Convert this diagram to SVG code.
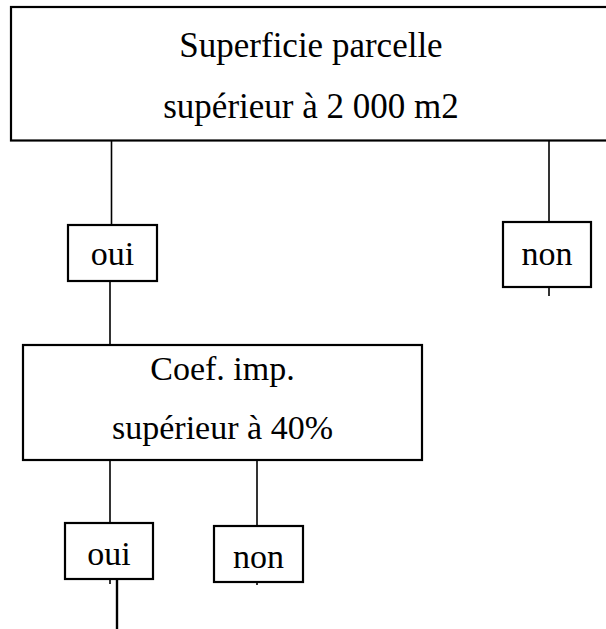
<svg xmlns="http://www.w3.org/2000/svg" width="606" height="629" viewBox="0 0 606 629">
<style>
.box{fill:#fff;stroke:#000;stroke-width:2.2}
.t{font-family:"Liberation Serif","Times New Roman",serif;font-size:34px;fill:#000;text-anchor:middle}
.c{stroke:#000;stroke-width:1.6;fill:none}
</style>
<rect width="606" height="629" fill="#fff"/>
<g id="connectors">
<line class="c" x1="111.5" y1="141" x2="111.5" y2="225"/>
<line class="c" x1="549" y1="141" x2="549" y2="222"/>
<line class="c" x1="549" y1="287" x2="549" y2="296"/>
<line class="c" x1="110" y1="281" x2="110" y2="345"/>
<line class="c" x1="110" y1="460" x2="110" y2="523"/>
<line class="c" x1="257" y1="460" x2="257" y2="526"/>
<line class="c" x1="110" y1="579" x2="110" y2="584"/>
<line class="c" x1="257" y1="582" x2="257" y2="585"/>
<line x1="117" y1="574" x2="117" y2="629" stroke="#000" stroke-width="2.4"/>
</g>
<g id="n_superficie">
<rect class="box" x="11" y="7" width="600" height="133.5"/>
<text class="t" x="311" y="57" style="font-size:35px">Superficie parcelle</text>
<text class="t" x="311" y="118" style="font-size:35px">supérieur à 2 000 m2</text>
</g>
<g id="n_oui1">
<rect class="box" x="68" y="225" width="89" height="56"/>
<text class="t" x="112.5" y="265">oui</text>
</g>
<g id="n_non1">
<rect class="box" x="503" y="222" width="88" height="65"/>
<text class="t" x="547" y="265">non</text>
</g>
<g id="n_coef">
<rect class="box" x="23" y="345" width="399" height="115"/>
<text class="t" x="222.5" y="380">Coef. imp.</text>
<text class="t" x="222.5" y="439">supérieur à 40%</text>
</g>
<g id="n_oui2">
<rect class="box" x="65" y="523" width="88" height="56"/>
<text class="t" x="109" y="565">oui</text>
</g>
<g id="n_non2">
<rect class="box" x="214" y="526" width="89" height="56"/>
<text class="t" x="258.5" y="568">non</text>
</g>
</svg>
